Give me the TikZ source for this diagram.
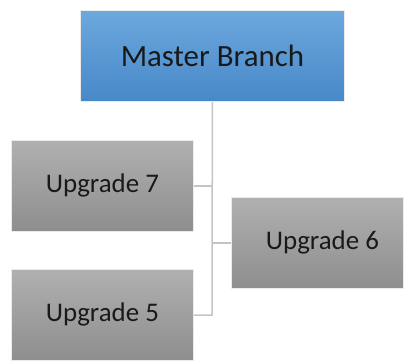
\documentclass[tikz,border=0pt]{standalone}
\usepackage{fontspec}
\setmainfont{Carlito}
\definecolor{bluetop}{HTML}{6DA8DE}
\definecolor{bluebot}{HTML}{4788C8}
\definecolor{graytop}{HTML}{B0B0B0}
\definecolor{graybot}{HTML}{8E8E8E}
\definecolor{linegray}{HTML}{C4C4C4}
\begin{document}
\begin{tikzpicture}[x=1bp,y=-1bp,
  box/.style={draw=white!92!black,line width=0.8bp,minimum width=182bp,minimum height=91bp,inner sep=0pt,anchor=north west,font=\fontsize{27}{32}\selectfont,text=black!90},
  bluebox/.style={box,top color=bluetop,bottom color=bluebot,minimum width=264bp,font=\fontsize{31}{36}\selectfont},
  graybox/.style={box,top color=graytop,bottom color=graybot},
  conn/.style={draw=linegray,line width=1.5bp}]
\useasboundingbox (0,0) rectangle (405,361);
\node[bluebox] (m) at (80,10) {Master Branch};
\node[graybox] (u7) at (11,140) {Upgrade 7};
\node[graybox,minimum width=172bp] (u6) at (231,197) {\hspace*{10bp}Upgrade 6};
\node[graybox] (u5) at (11,269) {Upgrade 5};
\coordinate (j) at (212,315);
\draw[conn] (m.south) -- (j) -- (u5.east |- j);
\draw[conn] (u7.east) -- (u7.east -| m.south);
\draw[conn] (u6.west) -- (u6.west -| m.south);
\end{tikzpicture}
\end{document}
